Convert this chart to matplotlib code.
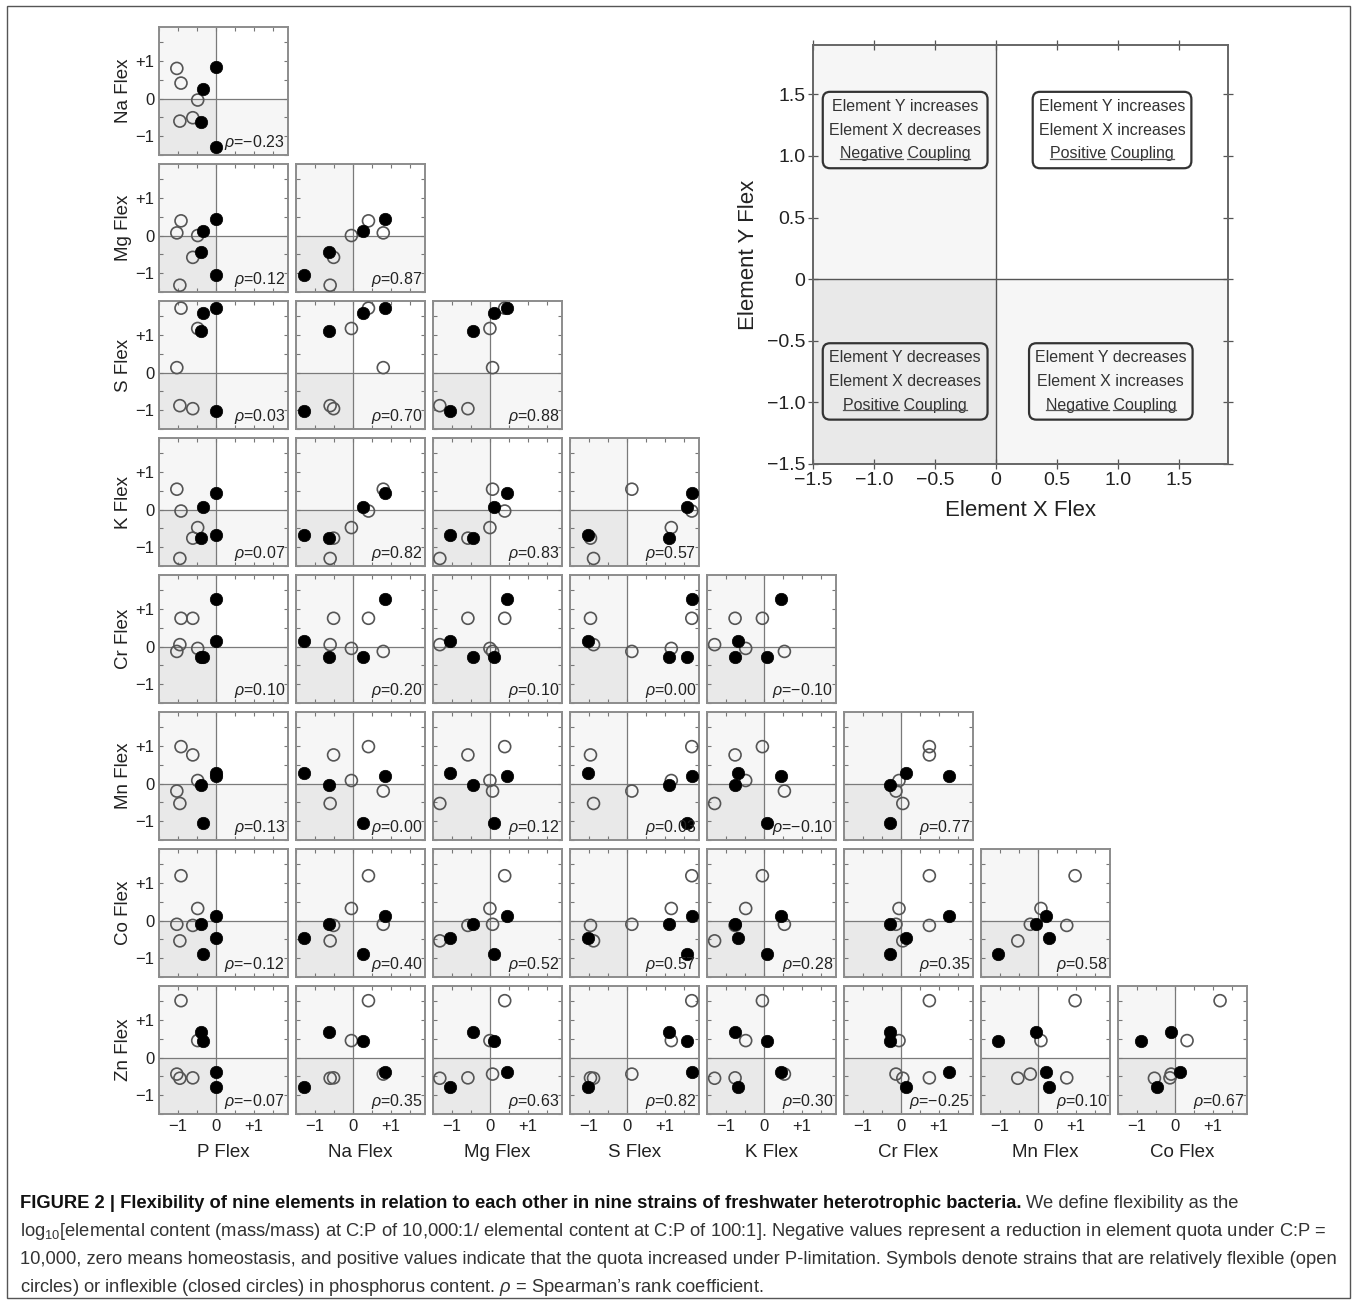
import matplotlib
matplotlib.use("Agg")
import matplotlib.pyplot as plt
from matplotlib.patches import Rectangle, FancyBboxPatch
from matplotlib.lines import Line2D
import numpy as np

plt.rcParams["font.family"] = ["Liberation Sans", "DejaVu Sans"]
plt.rcParams["mathtext.fontset"] = "custom"
plt.rcParams["mathtext.rm"] = "Liberation Sans"
plt.rcParams["mathtext.it"] = "Liberation Sans:italic"

# nine strains: first five flexible in P (open circles), last four inflexible (closed)
strain_open = [True, True, True, True, True, False, False, False, False]

p_flex = [-1.03, -0.92, -0.95, -0.61, -0.48, -0.35, -0.38, 0.00, 0.00]
na_flex = [0.80, 0.41, -0.60, -0.51, -0.04, 0.26, -0.63, 0.84, -1.29]
mg_flex = [0.07, 0.39, -1.32, -0.58, 0.00, 0.11, -0.45, 0.45, -1.06]
s_flex = [0.13, 1.71, -0.88, -0.96, 1.17, 1.58, 1.10, 1.71, -1.03]
k_flex = [0.54, -0.04, -1.30, -0.76, -0.48, 0.07, -0.76, 0.44, -0.68]
cr_flex = [-0.13, 0.75, 0.05, 0.75, -0.05, -0.28, -0.28, 1.27, 0.14]
mn_flex = [-0.20, 0.98, -0.53, 0.76, 0.08, -1.05, -0.05, 0.21, 0.28]
co_flex = [-0.10, 1.19, -0.54, -0.13, 0.32, -0.90, -0.09, 0.13, -0.46]
zn_flex = [-0.44, 1.51, -0.55, -0.54, 0.45, 0.45, 0.67, -0.39, -0.77]

elements = ["P", "Na", "Mg", "S", "K", "Cr", "Mn", "Co", "Zn"]

# Spearman coefficients printed in each panel (row = y element, columns from P)
rho_na = ["\u22120.23"]
rho_mg = ["0.12", "0.87"]
rho_s = ["0.03", "0.70", "0.88"]
rho_k = ["0.07", "0.82", "0.83", "0.57"]
rho_cr = ["0.10", "0.20", "0.10", "0.00", "\u22120.10"]
rho_mn = ["0.13", "0.00", "0.12", "0.03", "\u22120.10", "0.77"]
rho_co = ["\u22120.12", "0.40", "0.52", "0.57", "0.28", "0.35", "0.58"]
rho_zn = ["\u22120.07", "0.35", "0.63", "0.82", "0.30", "\u22120.25", "0.10", "0.67"]

flex = dict(zip(elements, [p_flex, na_flex, mg_flex, s_flex, k_flex,
                           cr_flex, mn_flex, co_flex, zn_flex]))
rhos = [rho_na, rho_mg, rho_s, rho_k, rho_cr, rho_mn, rho_co, rho_zn]

W, H = 1357, 1304
fig = plt.figure(figsize=(W / 100, H / 100), dpi=100)
renderer = fig.canvas.get_renderer()

LO, HI = -1.5, 1.9
C_DARK = "#e9e9e9"
C_LIGHT = "#f6f6f6"


def px_axes(left, top, w, h):
    return fig.add_axes([left / W, 1 - (top + h) / H, w / W, h / H])


def shade(ax, line_col, line_w):
    ax.set_xlim(LO, HI)
    ax.set_ylim(LO, HI)
    ax.add_patch(Rectangle((LO, LO), -LO, -LO, fc=C_DARK, ec="none", zorder=0))
    ax.add_patch(Rectangle((LO, 0), -LO, HI, fc=C_LIGHT, ec="none", zorder=0))
    ax.add_patch(Rectangle((0, LO), HI, -LO, fc=C_LIGHT, ec="none", zorder=0))
    ax.axhline(0, color=line_col, lw=line_w, zorder=1)
    ax.axvline(0, color=line_col, lw=line_w, zorder=1)


opn = np.array(strain_open)
ticks = np.arange(-1.5, 1.51, 0.5)
small_labels = ["", "\u22121", "", "0", "", "+1", ""]

for r in range(8):
    yname = elements[r + 1]
    for c in range(r + 1):
        xname = elements[c]
        ax = px_axes(159 + 137 * c, 27 + 137 * r, 129, 128)
        shade(ax, "#7a7a7a", 0.9)
        x = np.array(flex[xname])
        y = np.array(flex[yname])
        ax.scatter(x[opn], y[opn], s=74, facecolors="none", edgecolors="#555555",
                   linewidths=1.2, zorder=3)
        ax.scatter(x[~opn], y[~opn], s=80, facecolors="black", edgecolors="black",
                   linewidths=0.5, zorder=4)
        ax.text(HI - 0.08, LO + 0.07, r"$\rho$=" + rhos[r][c], ha="right",
                va="bottom", fontsize=11.5, color="#222222", zorder=5)
        ax.set_xticks(ticks)
        ax.set_yticks(ticks)
        ax.tick_params(direction="in", length=3, width=0.8, color="#777777",
                       top=True, right=True, labelsize=12, labelcolor="#222222")
        ax.set_xticklabels(small_labels if r == 7 else [""] * 7)
        ax.set_yticklabels(small_labels if c == 0 else [""] * 7)
        if c == 0:
            ax.set_ylabel(yname + " Flex", fontsize=13.5, color="#222222", labelpad=2)
        if r == 7:
            ax.set_xlabel(xname + " Flex", fontsize=13.5, color="#222222", labelpad=7)
        for sp in ax.spines.values():
            sp.set_color("#8c8c8c")
            sp.set_linewidth(1.4)

# explanatory inset
ax = px_axes(813, 45, 415, 419)
shade(ax, "#555555", 1.0)
ax.set_xticks(ticks)
ax.set_yticks(ticks)
big_labels = ["\u22121.5", "\u22121.0", "\u22120.5", "0", "0.5", "1.0", "1.5"]
ax.set_xticklabels(big_labels)
ax.set_yticklabels(big_labels)
ax.tick_params(direction="inout", length=7, width=0.9, color="#555555",
               top=True, right=True, labelsize=14, labelcolor="#222222", pad=2)
ax.set_xlabel("Element X Flex", fontsize=16, color="#222222", labelpad=8)
ax.set_ylabel("Element Y Flex", fontsize=16, color="#222222", labelpad=6)
for sp in ax.spines.values():
    sp.set_color("#666666")
    sp.set_linewidth(1.4)

boxes = [
    (-1.42, -0.07, 0.90, 1.52, ["Element Y increases", "Element X decreases"], ("Negative", "Coupling")),
    (0.30, 1.60, 0.90, 1.52, ["Element Y increases", "Element X increases"], ("Positive", "Coupling")),
    (-1.42, -0.07, -1.14, -0.52, ["Element Y decreases", "Element X decreases"], ("Positive", "Coupling")),
    (0.27, 1.61, -1.14, -0.52, ["Element Y decreases", "Element X increases"], ("Negative", "Coupling")),
]
for x0, x1, y0, y1, lines, uword in boxes:
    ax.add_patch(FancyBboxPatch((x0, y0), x1 - x0, y1 - y0,
                                boxstyle="round,pad=0,rounding_size=0.06",
                                fc="none", ec="#333333", lw=1.6, zorder=5))
    xc = (x0 + x1) / 2
    step = (y1 - y0) / 3.2
    yc = (y0 + y1) / 2
    for i, s in enumerate(lines):
        ax.text(xc, yc + step * (1 - i), s, ha="center", va="center",
                fontsize=11.5, color="#333333", zorder=6)
    t = ax.text(xc, yc - step, uword[0] + " " + uword[1], ha="center",
                va="center", fontsize=11.5, color="#333333", zorder=6)
    bb = t.get_window_extent(renderer)
    tmp = ax.text(0, 0, uword[0], fontsize=11.5)
    w0 = tmp.get_window_extent(renderer).width
    tmp.set_text(uword[1])
    w1 = tmp.get_window_extent(renderer).width
    tmp.remove()
    uy = (bb.y0 + 2.5) / H
    for a, b in [(bb.x0, bb.x0 + w0), (bb.x1 - w1, bb.x1)]:
        fig.add_artist(Line2D([a / W, b / W], [uy, uy], color="#555555", lw=0.9))

# caption
cap_size = 13.2
bold_txt = ("FIGURE 2 | Flexibility of nine elements in relation to each other in "
            "nine strains of freshwater heterotrophic bacteria.")
t = fig.text(20 / W, 1 - 1204 / H, bold_txt, fontsize=cap_size, weight="bold",
             color="#111111", va="center")
bb = t.get_window_extent(renderer)
fig.text((bb.x1 + 4) / W, 1 - 1204 / H, "We define flexibility as the",
         fontsize=cap_size, color="#333333", va="center")
cap_lines = [
    "log$_{10}$[elemental content (mass/mass) at C:P of 10,000:1/ elemental content "
    "at C:P of 100:1]. Negative values represent a reduction in element quota under C:P =",
    "10,000, zero means homeostasis, and positive values indicate that the quota "
    "increased under P-limitation. Symbols denote strains that are relatively flexible (open",
    r"circles) or inflexible (closed circles) in phosphorus content. $\rho$ = "
    "Spearman\u2019s rank coefficient.",
]
for i, s in enumerate(cap_lines):
    fig.text(20 / W, 1 - (1232 + 28 * i) / H, s, fontsize=cap_size,
             color="#333333", va="center")

fig.add_artist(Rectangle((7 / W, 1 - 1298 / H), 1343 / W, 1292 / H,
                         transform=fig.transFigure, fill=False, ec="#555555", lw=1.0))

fig.savefig("out.png", dpi=100)
